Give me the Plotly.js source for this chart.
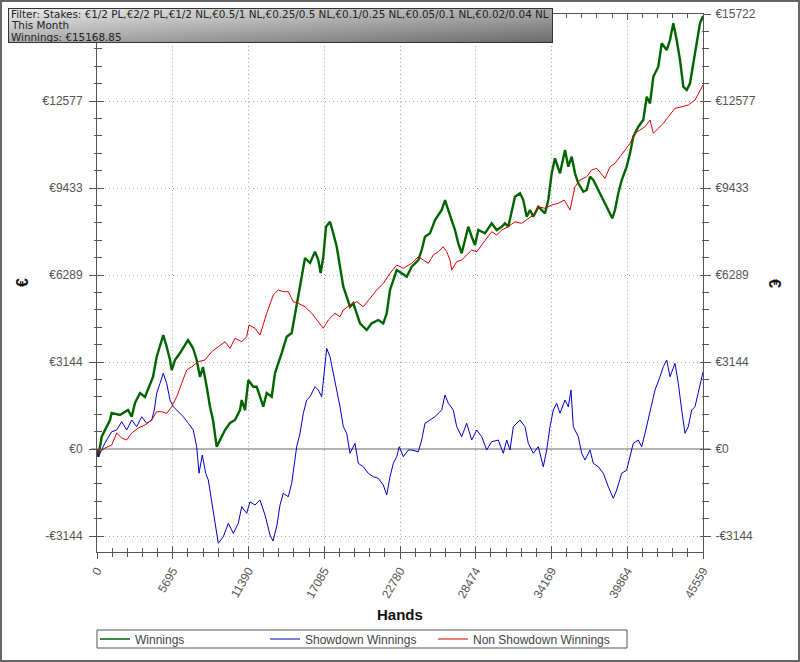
<!DOCTYPE html>
<html>
<head>
<meta charset="utf-8">
<script src="https://cdn.plot.ly/plotly-3.0.1.min.js"></script>
<style>html,body{margin:0;padding:0;background:#fff}#chart{width:800px;height:662px}</style>
</head>
<body>
<div id="chart"></div>
<script>
// ---------- data ----------
var winHands = [0,98,353,977,1105,1729,2331,2609,2857,3233,3609,3834,4210,4488,4736,4984,5240,5488,5616,5864,6240,6465,6841,7217,7495,7744,7969,8247,8495,8721,8999,9247,9623,9999,10375,10751,10878,11127,11375,11751,12006,12502,12758,13134,13382,13886,14262,14637,14886,15134,15389,15637,16013,16389,16637,16818,17013,17216,17517,17765,18021,18269,18517,18772,19021,19269,19524,19772,20276,20652,21148,21524,21780,22028,22276,22532,22907,23283,23659,24155,24411,24659,25035,25411,25914,26163,26411,26667,26914,27163,27418,27666,27914,28170,28418,28666,29170,29673,30049,30425,30673,30921,31177,31425,31801,32049,32305,32553,32801,33177,33432,33681,33929,34184,34432,34808,35184,35432,35688,35936,36184,36560,36816,37064,37312,37688,38064,38440,38741,38943,39191,39447,39823,40071,40319,40695,41071,41327,41575,41823,42199,42454,42830,43078,43326,43582,43830,44078,44334,44582,44830,45085,45333,45559];
var winValues = [0,-278,445,1048,1301,1229,1409,1167,1662,2024,1879,2132,2602,3336,3697,4120,3697,3217,2855,3217,3469,3650,3939,3650,3217,2602,2963,2252,1529,1048,83,325,687,940,1048,1409,1771,1409,2494,2252,2252,1529,2024,1890,2747,3469,4058,4192,4915,5638,6227,6903,6722,7131,6830,6361,6950,8034,8215,7795,7311,6588,5866,5504,5143,5266,4904,4543,4301,4543,4662,4543,4904,5746,6108,6469,6350,6227,6588,6830,7192,7673,7795,8276,8637,8999,8637,8276,7915,7434,7073,7553,8034,7673,7373,7915,7795,8157,7915,8034,8157,8034,8637,9118,9241,8999,8395,8637,8395,8757,8637,8518,8999,9964,10506,9964,10806,10202,10564,9964,9602,9299,9360,9841,9722,9360,8999,8637,8337,8637,9241,9722,10202,10687,11287,11648,11890,12732,12493,13455,13817,14662,14420,14781,15385,14781,14059,13094,12974,13217,13939,14539,15385,15650];

var sdHands = [0,98,601,1105,1481,1857,2233,2609,2985,3361,3736,4112,4308,4488,4736,4984,5240,5488,5736,6112,6488,6864,7240,7495,7668,7916,8172,8368,8623,8871,9119,9495,9871,10247,10623,10878,11254,11503,11878,12254,12630,13006,13232,13532,13758,14006,14382,14637,15013,15262,15510,15765,16013,16389,16637,16893,17066,17269,17517,17765,18021,18269,18517,18772,19021,19396,19644,20020,20396,20772,21148,21524,21780,22028,22276,22532,22727,23028,23404,23659,24155,24411,24659,25035,25411,25659,25914,26163,26411,26787,27043,27418,27794,28170,28546,28922,29298,29673,30170,30546,30801,31049,31298,31801,32177,32425,32801,33177,33553,33808,34056,34304,34560,34808,35184,35432,35635,35808,36184,36440,36688,37064,37312,37688,38064,38440,38816,39071,39447,39823,40071,40319,40695,40951,41199,41447,41703,41951,42327,42575,42830,43078,43454,43702,43958,44206,44454,44710,44958,45206,45462,45559];
var sdValues = [0,-278,217,625,687,987,687,1048,806,1167,929,1048,1409,2013,2374,2736,2374,1771,1529,1348,1167,929,687,83,-878,-217,-878,-1120,-1843,-2566,-3408,-3170,-2685,-3047,-2685,-2085,-2324,-1905,-2024,-1843,-2385,-3108,-3325,-2747,-2024,-1601,-1724,-1240,83,567,1290,1771,1890,2252,2132,1890,2613,3639,3336,2736,2252,1529,806,567,-155,206,-517,-640,-878,-1001,-1059,-1301,-1662,-1001,-517,-278,83,-278,-36,-36,-98,325,929,1048,1167,1290,1409,1952,1652,1409,806,445,929,325,687,445,-36,264,325,-155,325,-36,806,1048,806,206,-155,83,-640,-36,806,1409,1652,1290,1771,1529,2132,806,445,-155,-398,-36,-517,-640,-878,-1362,-1782,-1482,-878,-759,-278,206,325,83,567,1048,1652,2132,2613,2974,3217,2613,3097,2374,1409,567,806,1409,1529,2013,2613,2783];

var nsdHands = [0,98,601,1105,1481,1857,2233,2609,3105,3609,4112,4488,4864,5240,5616,5992,6368,6744,7120,7616,8119,8623,9119,9623,9999,10375,10878,11254,11427,11878,12254,12758,13254,13630,14006,14382,14758,15134,15637,16141,16637,17013,17389,17893,18269,18517,19021,19524,20020,20524,21028,21524,22028,22532,23028,23659,24155,24531,24907,25283,25659,26035,26291,26539,26667,27043,27418,27794,28170,28546,28922,29298,29673,30049,30425,30921,31425,31929,32305,32801,33177,33681,34184,34680,35131,35560,35936,36312,36816,37192,37568,37944,38192,38567,38943,39319,39695,40071,40447,40823,41199,41575,41823,42199,42575,42951,43454,43958,44454,44958,45462,45559];
var nsdValues = [0,-145,36,145,578,398,325,578,759,867,1048,1348,1348,1290,1529,1890,2374,2855,2974,3155,3217,3516,3697,3878,3639,4001,3878,4059,4481,4362,4120,4904,5566,5746,5685,5685,5323,5266,5143,4904,4601,4362,4662,4904,4781,5023,5204,5323,5143,5446,5746,5988,6350,6650,6531,6711,6950,6830,6711,7011,7131,7311,7131,6830,6469,6769,6830,7011,7192,7131,7373,7615,7853,7734,7915,8034,8215,8157,8276,8457,8757,8699,8818,8880,8999,8637,9480,9722,9841,10083,10145,9902,9783,10202,10325,10564,10806,11048,11409,11529,11648,11890,11409,11590,11771,12009,12313,12371,12432,12613,13094,13155];

var seriesNames = ["Winnings", "Showdown Winnings", "Non Showdown Winnings"];
var xTickVals = [0,5695,11390,17085,22780,28474,34169,39864,45559];
var yTickVals = [-3144,0,3144,6289,9433,12577,15722];
var yTickText = ["-€3144","€0","€3144","€6289","€9433","€12577","€15722"];
var filterLines = [
  "Filter: Stakes: €1/2 PL,€2/2 PL,€1/2 NL,€0.5/1 NL,€0.25/0.5 NL,€0.1/0.25 NL,€0.05/0.1 NL,€0.02/0.04 NL",
  "This Month",
  "Winnings: €15168.85"
];

// ---------- layout helpers ----------
var W = 800, H = 662, ML = 97, MR = 97, MT = 14, MB = 110;
var PW = W - ML - MR, PH = H - MT - MB;
function px(x) { return (x - ML) / PW; }
function py(y) { return (H - MB - y) / PH; }

var xRange = [0, 45559];
var yRange = [-3722, 15722];
var axisCol = "#555";
var gridDash = "1px,3px";
var labFont = {family: "Liberation Sans, Arial, sans-serif", size: 12, color: "#555"};
var legFont = {family: "Liberation Sans, Arial, sans-serif", size: 12, color: "#444"};
var greenCol = "#006400";

// the left axis label at the top is hidden behind the filter box in the reference
var yTickTextLeft = yTickText.map(function (t, i) { return i === yTickText.length - 1 ? "" : t; });

var traces = [
  {x: winHands, y: winValues, name: seriesNames[0], type: "scatter", mode: "lines", showlegend: false,
   line: {color: greenCol, width: 2.4}},
  {x: sdHands, y: sdValues, name: seriesNames[1], type: "scatter", mode: "lines", legend: "legend2",
   line: {color: "#0000c8", width: 1}},
  {x: nsdHands, y: nsdValues, name: seriesNames[2], type: "scatter", mode: "lines", legend: "legend3",
   line: {color: "#e00000", width: 1}},
  // legend-only entry for Winnings with a thin line, as in the reference legend
  {x: [null], y: [null], name: seriesNames[0], type: "scatter", mode: "lines", legend: "legend",
   line: {color: greenCol, width: 1.3}, hoverinfo: "skip"}
];

var gradSvg = "<svg xmlns='http://www.w3.org/2000/svg' width='545' height='35'>" +
  "<defs><linearGradient id='g' x1='0' y1='0' x2='1' y2='1'>" +
  "<stop offset='0' stop-color='#ebebeb'/><stop offset='1' stop-color='#6a6a6a'/></linearGradient></defs>" +
  "<rect x='0.5' y='0.5' width='544' height='34' fill='url(#g)' stroke='#333' stroke-width='1'/></svg>";

var commonX = {range: xRange, showline: true, linecolor: axisCol, linewidth: 1, zeroline: false, automargin: false};
var commonY = {range: yRange, showline: true, linecolor: axisCol, linewidth: 1, zeroline: false, automargin: false};

var annotations = [
  {text: "<b>Hands</b>", xref: "paper", yref: "paper", x: 0.5, y: py(614), xanchor: "center", yanchor: "middle",
   showarrow: false, font: {family: "Liberation Sans, Arial, sans-serif", size: 15, color: "#111"}},
  {text: "<b>€</b>", xref: "paper", yref: "paper", x: px(22), y: py(283), xanchor: "center", yanchor: "middle",
   textangle: -90, showarrow: false, font: {family: "Liberation Sans, Arial, sans-serif", size: 16, color: "#111"}},
  {text: "<b>€</b>", xref: "paper", yref: "paper", x: px(775), y: py(283), xanchor: "center", yanchor: "middle",
   textangle: 90, showarrow: false, font: {family: "Liberation Sans, Arial, sans-serif", size: 16, color: "#111"}}
];
filterLines.forEach(function (t, i) {
  annotations.push({text: t, xref: "paper", yref: "paper", x: px(9), y: py(13.5 + 12 * i),
    xanchor: "left", yanchor: "middle", align: "left", valign: "middle", height: 11.5, showarrow: false,
    font: {family: "DejaVu Sans, Verdana, sans-serif", size: 10.4, color: "#222"}});
});

function legendAt(xPix) {
  return {orientation: "h", x: px(xPix), xanchor: "left", y: py(639), yanchor: "middle",
    bgcolor: "rgba(0,0,0,0)", borderwidth: 0, font: legFont, itemwidth: 30};
}

var layout = {
  width: W, height: H,
  margin: {l: ML, r: MR, t: MT, b: MB, pad: 0, autoexpand: false},
  paper_bgcolor: "#fff", plot_bgcolor: "#fff",
  font: labFont,
  showlegend: true,
  legend: legendAt(95),
  legend2: legendAt(265),
  legend3: legendAt(433),
  xaxis: Object.assign({}, commonX, {
    tickmode: "array", tickvals: xTickVals, ticktext: xTickVals.map(String), tickangle: -60,
    ticks: "outside", ticklen: 6, tickcolor: axisCol, tickfont: labFont,
    showgrid: true, gridcolor: "#a8a8a8", griddash: gridDash, gridwidth: 1,
    minor: {tickmode: "linear", tick0: 0, dtick: 1139, ticks: "outside", ticklen: 4, tickcolor: axisCol, showgrid: false},
    anchor: "y"}),
  xaxis2: Object.assign({}, commonX, {
    overlaying: "x", anchor: "y", showticklabels: false, showgrid: false,
    tickmode: "array", tickvals: xTickVals, ticks: "inside", ticklen: 6, tickcolor: axisCol, mirror: "ticks",
    minor: {tickmode: "linear", tick0: 0, dtick: 1139, ticks: "inside", ticklen: 4, tickcolor: axisCol, showgrid: false}}),
  yaxis: Object.assign({}, commonY, {
    tickmode: "array", tickvals: yTickVals, ticktext: yTickTextLeft,
    ticks: "outside", ticklen: 7, tickcolor: axisCol, tickfont: labFont, ticklabelstandoff: 4,
    showgrid: true, gridcolor: "#a8a8a8", griddash: gridDash, gridwidth: 1,
    minor: {tickmode: "linear", tick0: 0, dtick: 628.86, ticks: "outside", ticklen: 2, tickcolor: axisCol, showgrid: false},
    anchor: "x"}),
  yaxis2: Object.assign({}, commonY, {
    overlaying: "y", side: "left", anchor: "x", showticklabels: false, showgrid: false,
    tickmode: "array", tickvals: yTickVals, ticks: "inside", ticklen: 7, tickcolor: axisCol,
    minor: {tickmode: "linear", tick0: 0, dtick: 628.86, ticks: "inside", ticklen: 5, tickcolor: axisCol, showgrid: false}}),
  yaxis3: Object.assign({}, commonY, {
    overlaying: "y", side: "right", anchor: "x", showgrid: false,
    tickmode: "array", tickvals: yTickVals, ticktext: yTickText, tickfont: labFont, ticklabelstandoff: 2,
    ticks: "outside", ticklen: 7, tickcolor: axisCol,
    minor: {tickmode: "linear", tick0: 0, dtick: 628.86, ticks: "outside", ticklen: 5, tickcolor: axisCol, showgrid: false}}),
  yaxis4: Object.assign({}, commonY, {
    overlaying: "y", side: "right", anchor: "x", showticklabels: false, showgrid: false,
    tickmode: "array", tickvals: yTickVals, ticks: "inside", ticklen: 3, tickcolor: axisCol,
    minor: {tickmode: "linear", tick0: 0, dtick: 628.86, ticks: "inside", ticklen: 1, tickcolor: axisCol, showgrid: false}}),
  shapes: [
    {type: "line", xref: "paper", yref: "y", x0: px(91), x1: px(710), y0: 0, y1: 0,
     line: {color: "#b4b4b4", width: 2}, layer: "below"},
    {type: "rect", xref: "paper", yref: "paper", x0: px(97), x1: px(627), y0: py(648), y1: py(630),
     line: {color: "#555", width: 1}, fillcolor: "#fff", layer: "below"},
    {type: "rect", xref: "paper", yref: "paper", x0: px(1), x1: px(799), y0: py(661), y1: py(1),
     line: {color: "#666", width: 2}, fillcolor: "rgba(0,0,0,0)"}
  ],
  images: [
    {source: "data:image/svg+xml;charset=utf-8," + encodeURIComponent(gradSvg),
     xref: "paper", yref: "paper", x: px(8), y: py(8), sizex: 545 / PW, sizey: 35 / PH,
     xanchor: "left", yanchor: "top", sizing: "stretch", layer: "above"}
  ],
  annotations: annotations
};

// invisible helper traces so the overlay axes are drawn
traces.push({x: [0], y: [0], xaxis: "x2", yaxis: "y2", mode: "markers", marker: {opacity: 0}, showlegend: false, hoverinfo: "skip"});
traces.push({x: [0], y: [0], xaxis: "x", yaxis: "y3", mode: "markers", marker: {opacity: 0}, showlegend: false, hoverinfo: "skip"});
traces.push({x: [0], y: [0], xaxis: "x", yaxis: "y4", mode: "markers", marker: {opacity: 0}, showlegend: false, hoverinfo: "skip"});

Plotly.newPlot("chart", traces, layout, {staticPlot: true, displayModeBar: false});
</script>
</body>
</html>
